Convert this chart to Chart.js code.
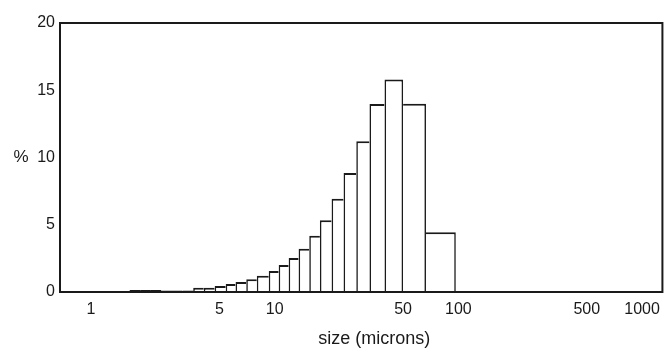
<!DOCTYPE html>
<html>
<head>
<meta charset="utf-8">
<script src="https://cdn.jsdelivr.net/npm/chart.js@4.4.1/dist/chart.umd.min.js"></script>
<style>
  html, body { margin: 0; padding: 0; background: #fff; }
  #wrap { width: 668px; height: 350px; }
</style>
</head>
<body>
<div id="wrap"><canvas id="sizeChart"></canvas></div>
<script>
// bin edges in microns (one more than the bars)
const binEdges = [1.62, 1.85, 2.12, 2.42, 2.76, 3.15, 3.60, 4.11, 4.71, 5.41, 6.12,
  7.00, 7.99, 9.28, 10.51, 11.91, 13.49, 15.42, 17.62, 20.4, 23.7, 27.8, 32.8,
  39.6, 50.0, 66.6, 96.8];
// % in each bin
const percent = [0.15, 0.15, 0.14, 0.12, 0.12, 0.12, 0.31, 0.32, 0.45, 0.59, 0.74,
  0.95, 1.2, 1.57, 2.0, 2.52, 3.22, 4.18, 5.33, 6.94, 8.84, 11.2, 13.97, 15.8,
  14.0, 4.44];
const xTicks = [1, 5, 10, 50, 100, 500, 1000];
const yTicks = [0, 5, 10, 15, 20];

const ink = '#1a1a1a';
const font = 'Liberation Sans, Arial, sans-serif';
const line = 1.6;

const points = percent.map((v, i) => ({
  x: Math.sqrt(binEdges[i] * binEdges[i + 1]),
  y: v
}));

// each shared edge is drawn once, by the taller of the two bars
function sideWidths(i) {
  const prev = i > 0 ? percent[i - 1] : -1;
  const next = i < percent.length - 1 ? percent[i + 1] : -1;
  return {
    top: 2,
    bottom: 0,
    left: prev <= percent[i] ? line : 0,
    right: next < percent[i] ? line : 0
  };
}

// stretch each bar over its own bin, using the x scale
const binWidths = {
  id: 'binWidths',
  afterDatasetsUpdate(chart) {
    const xs = chart.scales.x;
    chart.getDatasetMeta(0).data.forEach((bar, i) => {
      const l = xs.getPixelForValue(binEdges[i]);
      const r = xs.getPixelForValue(binEdges[i + 1]);
      bar.x = (l + r) / 2;
      bar.width = r - l;
    });
  }
};

// frame round the plot, "%" label and x title
const frame = {
  id: 'frame',
  afterDraw(chart) {
    const { ctx, chartArea: a } = chart;
    ctx.save();
    ctx.strokeStyle = ink;
    ctx.lineWidth = 2;
    ctx.strokeRect(a.left, a.top, a.right - a.left, a.bottom - a.top);
    ctx.fillStyle = ink;
    ctx.font = '17px ' + font;
    ctx.textAlign = 'center';
    ctx.textBaseline = 'middle';
    ctx.fillText('%', 21, chart.scales.y.getPixelForValue(10));
    ctx.font = '18px ' + font;
    ctx.fillText('size (microns)', (a.left + a.right) / 2 + 13, 339);
    ctx.restore();
  }
};

new Chart(document.getElementById('sizeChart'), {
  type: 'bar',
  data: {
    datasets: [{
      data: points,
      backgroundColor: '#fff',
      borderColor: ink,
      borderWidth: c => sideWidths(c.dataIndex),
      borderSkipped: false
    }]
  },
  options: {
    responsive: true,
    maintainAspectRatio: false,
    animation: false,
    layout: { padding: { top: 23, right: 3, left: 0, bottom: 0 } },
    plugins: { legend: { display: false }, tooltip: { enabled: false } },
    scales: {
      x: {
        type: 'logarithmic',
        min: 0.678,
        max: 1290,
        grid: { display: false, drawTicks: false },
        border: { display: false },
        afterBuildTicks: s => { s.ticks = xTicks.map(v => ({ value: v })); },
        ticks: {
          color: ink,
          font: { family: font, size: 16 },
          padding: 8,
          maxRotation: 0,
          autoSkip: false,
          callback: v => String(v)
        },
        afterFit: s => { s.height = 58; }
      },
      y: {
        min: 0,
        max: 20,
        grid: { display: false, drawTicks: false },
        border: { display: false },
        afterBuildTicks: s => { s.ticks = yTicks.map(v => ({ value: v })); },
        ticks: {
          color: ink,
          font: { family: font, size: 16 },
          padding: 5
        },
        afterFit: s => { s.width = 60; }
      }
    }
  },
  plugins: [binWidths, frame]
});
</script>
</body>
</html>
